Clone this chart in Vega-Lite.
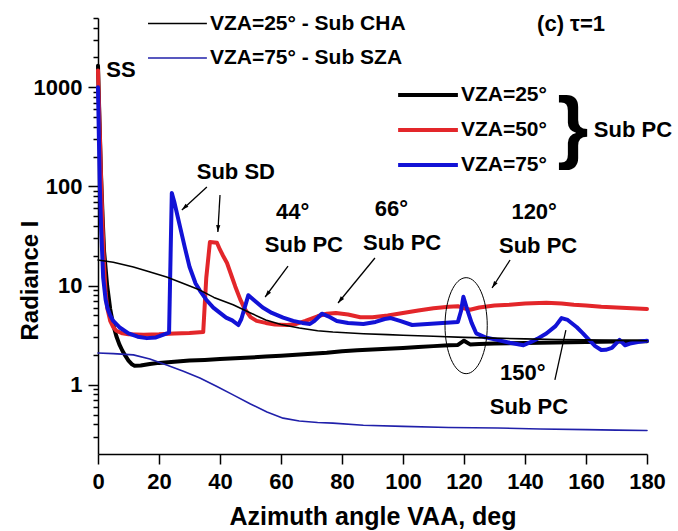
{
  "$schema": "https://vega.github.io/schema/vega-lite/v6.json",
  "width": 549,
  "height": 436,
  "autosize": {"type": "none"},
  "padding": {"left": 98, "top": 18, "right": 31, "bottom": 77},
  "background": "white",
  "config": {
    "view": {"stroke": null},
    "font": "Liberation Sans",
    "axis": {
      "grid": false,
      "domainColor": "black",
      "domainWidth": 1.5,
      "tickColor": "black",
      "tickWidth": 1.5,
      "labelColor": "black",
      "labelFont": "Liberation Sans",
      "labelFontWeight": "bold",
      "labelFontSize": 22,
      "titleColor": "black",
      "titleFont": "Liberation Sans",
      "titleFontWeight": "bold",
      "labelOverlap": false,
      "labelFlush": false
    },
    "text": {"font": "Liberation Sans", "fontWeight": "bold", "color": "black"}
  },
  "datasets": {
    "curves": [
      {"series": "PC25", "vaa": 0, "radiance": 1650}, {"series": "PC25", "vaa": 0.5, "radiance": 450}, {"series": "PC25", "vaa": 1, "radiance": 130}, {"series": "PC25", "vaa": 1.5, "radiance": 50}, {"series": "PC25", "vaa": 2, "radiance": 22}, {"series": "PC25", "vaa": 3, "radiance": 10}, {"series": "PC25", "vaa": 4, "radiance": 5.8}, {"series": "PC25", "vaa": 5, "radiance": 4}, {"series": "PC25", "vaa": 6, "radiance": 3.1}, {"series": "PC25", "vaa": 7, "radiance": 2.55}, {"series": "PC25", "vaa": 8, "radiance": 2.2}, {"series": "PC25", "vaa": 9, "radiance": 1.95}, {"series": "PC25", "vaa": 10, "radiance": 1.75}, {"series": "PC25", "vaa": 11, "radiance": 1.62}, {"series": "PC25", "vaa": 12, "radiance": 1.55}, {"series": "PC25", "vaa": 14, "radiance": 1.56}, {"series": "PC25", "vaa": 17, "radiance": 1.62}, {"series": "PC25", "vaa": 20, "radiance": 1.66}, {"series": "PC25", "vaa": 25, "radiance": 1.7}, {"series": "PC25", "vaa": 30, "radiance": 1.75}, {"series": "PC25", "vaa": 35, "radiance": 1.78}, {"series": "PC25", "vaa": 40, "radiance": 1.82}, {"series": "PC25", "vaa": 45, "radiance": 1.85}, {"series": "PC25", "vaa": 50, "radiance": 1.88}, {"series": "PC25", "vaa": 55, "radiance": 1.92}, {"series": "PC25", "vaa": 60, "radiance": 1.96}, {"series": "PC25", "vaa": 65, "radiance": 2.0}, {"series": "PC25", "vaa": 70, "radiance": 2.05}, {"series": "PC25", "vaa": 75, "radiance": 2.1}, {"series": "PC25", "vaa": 80, "radiance": 2.18}, {"series": "PC25", "vaa": 85, "radiance": 2.22}, {"series": "PC25", "vaa": 90, "radiance": 2.26}, {"series": "PC25", "vaa": 95, "radiance": 2.3}, {"series": "PC25", "vaa": 100, "radiance": 2.35}, {"series": "PC25", "vaa": 105, "radiance": 2.4}, {"series": "PC25", "vaa": 110, "radiance": 2.45}, {"series": "PC25", "vaa": 115, "radiance": 2.5}, {"series": "PC25", "vaa": 118, "radiance": 2.52}, {"series": "PC25", "vaa": 120, "radiance": 2.78}, {"series": "PC25", "vaa": 122, "radiance": 2.55}, {"series": "PC25", "vaa": 125, "radiance": 2.57}, {"series": "PC25", "vaa": 130, "radiance": 2.6}, {"series": "PC25", "vaa": 140, "radiance": 2.63}, {"series": "PC25", "vaa": 150, "radiance": 2.66}, {"series": "PC25", "vaa": 160, "radiance": 2.7}, {"series": "PC25", "vaa": 170, "radiance": 2.72}, {"series": "PC25", "vaa": 180, "radiance": 2.75},

      {"series": "PC50", "vaa": 0, "radiance": 1480}, {"series": "PC50", "vaa": 0.5, "radiance": 420}, {"series": "PC50", "vaa": 1, "radiance": 120}, {"series": "PC50", "vaa": 1.5, "radiance": 40}, {"series": "PC50", "vaa": 2, "radiance": 16}, {"series": "PC50", "vaa": 2.5, "radiance": 8.5}, {"series": "PC50", "vaa": 3, "radiance": 6}, {"series": "PC50", "vaa": 4, "radiance": 4.4}, {"series": "PC50", "vaa": 5, "radiance": 3.8}, {"series": "PC50", "vaa": 6, "radiance": 3.5}, {"series": "PC50", "vaa": 8, "radiance": 3.3}, {"series": "PC50", "vaa": 10, "radiance": 3.22}, {"series": "PC50", "vaa": 15, "radiance": 3.2}, {"series": "PC50", "vaa": 20, "radiance": 3.22}, {"series": "PC50", "vaa": 25, "radiance": 3.28}, {"series": "PC50", "vaa": 30, "radiance": 3.33}, {"series": "PC50", "vaa": 34.5, "radiance": 3.4}, {"series": "PC50", "vaa": 35.5, "radiance": 12}, {"series": "PC50", "vaa": 36.7, "radiance": 27.5}, {"series": "PC50", "vaa": 39, "radiance": 27}, {"series": "PC50", "vaa": 40, "radiance": 23}, {"series": "PC50", "vaa": 41, "radiance": 20}, {"series": "PC50", "vaa": 42.3, "radiance": 16.9}, {"series": "PC50", "vaa": 44, "radiance": 12}, {"series": "PC50", "vaa": 45, "radiance": 9.8}, {"series": "PC50", "vaa": 46.6, "radiance": 7.3}, {"series": "PC50", "vaa": 48, "radiance": 5.9}, {"series": "PC50", "vaa": 50, "radiance": 4.8}, {"series": "PC50", "vaa": 52, "radiance": 4.4}, {"series": "PC50", "vaa": 55, "radiance": 4.2}, {"series": "PC50", "vaa": 58, "radiance": 4.05}, {"series": "PC50", "vaa": 62, "radiance": 4.0}, {"series": "PC50", "vaa": 65, "radiance": 4.1}, {"series": "PC50", "vaa": 68, "radiance": 4.4}, {"series": "PC50", "vaa": 72, "radiance": 4.9}, {"series": "PC50", "vaa": 75, "radiance": 5.2}, {"series": "PC50", "vaa": 78, "radiance": 5.3}, {"series": "PC50", "vaa": 82, "radiance": 5.1}, {"series": "PC50", "vaa": 86, "radiance": 4.8}, {"series": "PC50", "vaa": 90, "radiance": 4.8}, {"series": "PC50", "vaa": 95, "radiance": 5.0}, {"series": "PC50", "vaa": 100, "radiance": 5.3}, {"series": "PC50", "vaa": 105, "radiance": 5.6}, {"series": "PC50", "vaa": 110, "radiance": 5.9}, {"series": "PC50", "vaa": 115, "radiance": 6.1}, {"series": "PC50", "vaa": 118, "radiance": 6.2}, {"series": "PC50", "vaa": 120, "radiance": 5.9}, {"series": "PC50", "vaa": 122, "radiance": 5.7}, {"series": "PC50", "vaa": 125, "radiance": 6.0}, {"series": "PC50", "vaa": 130, "radiance": 6.3}, {"series": "PC50", "vaa": 135, "radiance": 6.4}, {"series": "PC50", "vaa": 140, "radiance": 6.6}, {"series": "PC50", "vaa": 147, "radiance": 6.7}, {"series": "PC50", "vaa": 152, "radiance": 6.6}, {"series": "PC50", "vaa": 156, "radiance": 6.4}, {"series": "PC50", "vaa": 160, "radiance": 6.3}, {"series": "PC50", "vaa": 165, "radiance": 6.1}, {"series": "PC50", "vaa": 170, "radiance": 6.0}, {"series": "PC50", "vaa": 175, "radiance": 5.9}, {"series": "PC50", "vaa": 180, "radiance": 5.8},

      {"series": "PC75", "vaa": 0, "radiance": 1000}, {"series": "PC75", "vaa": 0.3, "radiance": 300}, {"series": "PC75", "vaa": 0.6, "radiance": 100}, {"series": "PC75", "vaa": 1, "radiance": 40}, {"series": "PC75", "vaa": 1.7, "radiance": 12}, {"series": "PC75", "vaa": 2.5, "radiance": 7.2}, {"series": "PC75", "vaa": 3.2, "radiance": 5.8}, {"series": "PC75", "vaa": 4, "radiance": 5.0}, {"series": "PC75", "vaa": 5, "radiance": 4.4}, {"series": "PC75", "vaa": 7, "radiance": 3.8}, {"series": "PC75", "vaa": 10, "radiance": 3.3}, {"series": "PC75", "vaa": 13, "radiance": 3.05}, {"series": "PC75", "vaa": 16, "radiance": 2.95}, {"series": "PC75", "vaa": 19, "radiance": 3.0}, {"series": "PC75", "vaa": 21.5, "radiance": 3.2}, {"series": "PC75", "vaa": 23.3, "radiance": 3.35}, {"series": "PC75", "vaa": 24.2, "radiance": 86}, {"series": "PC75", "vaa": 25, "radiance": 70}, {"series": "PC75", "vaa": 27, "radiance": 38}, {"series": "PC75", "vaa": 28.5, "radiance": 24}, {"series": "PC75", "vaa": 30, "radiance": 15.5}, {"series": "PC75", "vaa": 32, "radiance": 10.5}, {"series": "PC75", "vaa": 33.4, "radiance": 8.9}, {"series": "PC75", "vaa": 35.5, "radiance": 7.2}, {"series": "PC75", "vaa": 37.8, "radiance": 6.0}, {"series": "PC75", "vaa": 40, "radiance": 5.3}, {"series": "PC75", "vaa": 42, "radiance": 4.75}, {"series": "PC75", "vaa": 44, "radiance": 4.45}, {"series": "PC75", "vaa": 46, "radiance": 4.0}, {"series": "PC75", "vaa": 47, "radiance": 4.6}, {"series": "PC75", "vaa": 49.3, "radiance": 8.0}, {"series": "PC75", "vaa": 51, "radiance": 7.2}, {"series": "PC75", "vaa": 54, "radiance": 6.0}, {"series": "PC75", "vaa": 57, "radiance": 5.3}, {"series": "PC75", "vaa": 60.7, "radiance": 4.75}, {"series": "PC75", "vaa": 64, "radiance": 4.4}, {"series": "PC75", "vaa": 67, "radiance": 4.2}, {"series": "PC75", "vaa": 69.5, "radiance": 4.1}, {"series": "PC75", "vaa": 71, "radiance": 4.4}, {"series": "PC75", "vaa": 73.4, "radiance": 5.2}, {"series": "PC75", "vaa": 75.5, "radiance": 4.9}, {"series": "PC75", "vaa": 78.3, "radiance": 4.4}, {"series": "PC75", "vaa": 82, "radiance": 4.2}, {"series": "PC75", "vaa": 87, "radiance": 4.1}, {"series": "PC75", "vaa": 91, "radiance": 4.3}, {"series": "PC75", "vaa": 94, "radiance": 4.6}, {"series": "PC75", "vaa": 96, "radiance": 4.7}, {"series": "PC75", "vaa": 99, "radiance": 4.4}, {"series": "PC75", "vaa": 103, "radiance": 4.0}, {"series": "PC75", "vaa": 108, "radiance": 4.1}, {"series": "PC75", "vaa": 113, "radiance": 4.2}, {"series": "PC75", "vaa": 118, "radiance": 4.3}, {"series": "PC75", "vaa": 119, "radiance": 5.5}, {"series": "PC75", "vaa": 119.8, "radiance": 7.7}, {"series": "PC75", "vaa": 121, "radiance": 5.8}, {"series": "PC75", "vaa": 122.5, "radiance": 4.2}, {"series": "PC75", "vaa": 124, "radiance": 3.3}, {"series": "PC75", "vaa": 127, "radiance": 3.0}, {"series": "PC75", "vaa": 130.8, "radiance": 2.83}, {"series": "PC75", "vaa": 135, "radiance": 2.65}, {"series": "PC75", "vaa": 139.5, "radiance": 2.5}, {"series": "PC75", "vaa": 142, "radiance": 2.7}, {"series": "PC75", "vaa": 144, "radiance": 2.9}, {"series": "PC75", "vaa": 147, "radiance": 3.28}, {"series": "PC75", "vaa": 150, "radiance": 3.9}, {"series": "PC75", "vaa": 152, "radiance": 4.7}, {"series": "PC75", "vaa": 154, "radiance": 4.5}, {"series": "PC75", "vaa": 157, "radiance": 3.8}, {"series": "PC75", "vaa": 159, "radiance": 3.3}, {"series": "PC75", "vaa": 161, "radiance": 2.83}, {"series": "PC75", "vaa": 163, "radiance": 2.45}, {"series": "PC75", "vaa": 165, "radiance": 2.24}, {"series": "PC75", "vaa": 166.5, "radiance": 2.25}, {"series": "PC75", "vaa": 168.5, "radiance": 2.35}, {"series": "PC75", "vaa": 171, "radiance": 2.83}, {"series": "PC75", "vaa": 172.8, "radiance": 2.5}, {"series": "PC75", "vaa": 174.4, "radiance": 2.6}, {"series": "PC75", "vaa": 177, "radiance": 2.7}, {"series": "PC75", "vaa": 180, "radiance": 2.78},

      {"series": "CHA25", "vaa": 0, "radiance": 18.1}, {"series": "CHA25", "vaa": 5, "radiance": 17.2}, {"series": "CHA25", "vaa": 11.6, "radiance": 15.4}, {"series": "CHA25", "vaa": 16, "radiance": 14}, {"series": "CHA25", "vaa": 22.5, "radiance": 12.2}, {"series": "CHA25", "vaa": 28, "radiance": 10.5}, {"series": "CHA25", "vaa": 33.4, "radiance": 9.0}, {"series": "CHA25", "vaa": 38, "radiance": 7.6}, {"series": "CHA25", "vaa": 44.3, "radiance": 6.4}, {"series": "CHA25", "vaa": 50, "radiance": 5.3}, {"series": "CHA25", "vaa": 55, "radiance": 4.5}, {"series": "CHA25", "vaa": 60, "radiance": 4.05}, {"series": "CHA25", "vaa": 66, "radiance": 3.73}, {"series": "CHA25", "vaa": 72, "radiance": 3.5}, {"series": "CHA25", "vaa": 77, "radiance": 3.4}, {"series": "CHA25", "vaa": 87, "radiance": 3.27}, {"series": "CHA25", "vaa": 95, "radiance": 3.2}, {"series": "CHA25", "vaa": 100, "radiance": 3.15}, {"series": "CHA25", "vaa": 110, "radiance": 3.08}, {"series": "CHA25", "vaa": 120, "radiance": 3.0}, {"series": "CHA25", "vaa": 130, "radiance": 2.95}, {"series": "CHA25", "vaa": 140, "radiance": 2.9}, {"series": "CHA25", "vaa": 150, "radiance": 2.86}, {"series": "CHA25", "vaa": 160, "radiance": 2.83}, {"series": "CHA25", "vaa": 170, "radiance": 2.8}, {"series": "CHA25", "vaa": 180, "radiance": 2.78},

      {"series": "SZA75", "vaa": 0, "radiance": 2.09}, {"series": "SZA75", "vaa": 5, "radiance": 2.06}, {"series": "SZA75", "vaa": 11.6, "radiance": 2.0}, {"series": "SZA75", "vaa": 17, "radiance": 1.82}, {"series": "SZA75", "vaa": 22.5, "radiance": 1.58}, {"series": "SZA75", "vaa": 28, "radiance": 1.37}, {"series": "SZA75", "vaa": 33.4, "radiance": 1.17}, {"series": "SZA75", "vaa": 39, "radiance": 0.96}, {"series": "SZA75", "vaa": 44.3, "radiance": 0.79}, {"series": "SZA75", "vaa": 50, "radiance": 0.64}, {"series": "SZA75", "vaa": 55.4, "radiance": 0.53}, {"series": "SZA75", "vaa": 60.7, "radiance": 0.46}, {"series": "SZA75", "vaa": 66, "radiance": 0.43}, {"series": "SZA75", "vaa": 72, "radiance": 0.415}, {"series": "SZA75", "vaa": 77, "radiance": 0.41}, {"series": "SZA75", "vaa": 87, "radiance": 0.39}, {"series": "SZA75", "vaa": 100, "radiance": 0.38}, {"series": "SZA75", "vaa": 115, "radiance": 0.37}, {"series": "SZA75", "vaa": 131, "radiance": 0.366}, {"series": "SZA75", "vaa": 145, "radiance": 0.358}, {"series": "SZA75", "vaa": 160, "radiance": 0.352}, {"series": "SZA75", "vaa": 170, "radiance": 0.348}, {"series": "SZA75", "vaa": 180, "radiance": 0.345}
    ],
    "legendLines": [
      {"series": "CHA25", "x1": 16.4, "x2": 35.7, "y": 4400, "label": "VZA=25° - Sub CHA"},
      {"series": "SZA75", "x1": 16.4, "x2": 35.7, "y": 1975, "label": "VZA=75° - Sub SZA"},
      {"series": "PC25", "x1": 98.4, "x2": 118, "y": 836, "label": "VZA=25°"},
      {"series": "PC50", "x1": 98.4, "x2": 118, "y": 371, "label": "VZA=50°"},
      {"series": "PC75", "x1": 98.4, "x2": 118, "y": 164.5, "label": "VZA=75°"}
    ],
    "notes": [
      {"x": 7.5, "y": 1495, "text": "SS"},
      {"x": 155.1, "y": 4350, "text": "(c) τ=1"},
      {"x": 45.2, "y": 140, "text": "Sub SD"},
      {"x": 63.8, "y": 55.2, "text": "44°"},
      {"x": 67.5, "y": 25.7, "text": "Sub PC"},
      {"x": 96.2, "y": 59.2, "text": "66°"},
      {"x": 99.7, "y": 26.9, "text": "Sub PC"},
      {"x": 143, "y": 55.2, "text": "120°"},
      {"x": 144.3, "y": 25.1, "text": "Sub PC"},
      {"x": 139.3, "y": 1.31, "text": "150°"},
      {"x": 141.3, "y": 0.596, "text": "Sub PC"},
      {"x": 175.4, "y": 371, "text": "Sub PC"}
    ],
    "brace": [{"x": 155.7, "y": 380, "text": "}"}],
    "arrows": [
      {"x1": 35.7, "y1": 98.7, "x2": 27.5, "y2": 57.9, "angle": 227},
      {"x1": 40.0, "y1": 82, "x2": 39.3, "y2": 34.7, "angle": 183},
      {"x1": 62.3, "y1": 15.7, "x2": 54.8, "y2": 7.67, "angle": 217},
      {"x1": 90.8, "y1": 18.97, "x2": 78.7, "y2": 6.67, "angle": 219},
      {"x1": 135.1, "y1": 18.1, "x2": 129.2, "y2": 9.45, "angle": 213},
      {"x1": 149.8, "y1": 1.116, "x2": 153.4, "y2": 3.56, "angle": null}
    ],
    "ellipse": [{"x": 120.7, "y": 3.94}]
  },
  "layer": [
    {
      "data": {"name": "curves"},
      "mark": {"type": "line", "strokeJoin": "round", "strokeCap": "round"},
      "encoding": {
        "x": {"field": "vaa", "type": "quantitative",
          "scale": {"domain": [0, 180], "nice": false, "zero": false},
          "axis": {"orient": "bottom", "values": [0, 10, 20, 30, 40, 50, 60, 70, 80, 90, 100, 110, 120, 130, 140, 150, 160, 170, 180],
            "tickSize": {"condition": {"test": "datum.value % 20 === 0", "value": 10}, "value": 5},
            "labelExpr": "datum.value % 20 === 0 ? datum.label : ''",
            "labelPadding": 7,
            "title": "Azimuth angle VAA, deg", "titleFontSize": 25, "titlePadding": 12}},
        "y": {"field": "radiance", "type": "quantitative",
          "scale": {"type": "log", "domain": [0.2, 5000], "nice": false},
          "axis": {"orient": "left",
            "values": [0.3, 0.4, 0.5, 0.6, 0.7, 0.8, 0.9, 1, 2, 3, 4, 5, 6, 7, 8, 9, 10, 20, 30, 40, 50, 60, 70, 80, 90, 100, 200, 300, 400, 500, 600, 700, 800, 900, 1000, 2000, 3000, 4000, 5000],
            "format": "d",
            "tickSize": {"condition": {"test": "indexof([1, 10, 100, 1000], datum.value) >= 0", "value": 10}, "value": 5},
            "labelExpr": "indexof([1, 10, 100, 1000], datum.value) >= 0 ? datum.label : ''",
            "labelPadding": 6,
            "title": "Radiance I", "titleFontSize": 24, "titleX": -61, "titleY": 262, "titleAngle": -90, "titleAlign": "center", "titleBaseline": "alphabetic"}},
        "color": {"field": "series", "type": "nominal", "legend": null,
          "scale": {"domain": ["CHA25", "PC25", "PC50", "PC75", "SZA75"], "range": ["#000000", "#000000", "#e3262a", "#1212d6", "#2020aa"]}},
        "strokeWidth": {"field": "series", "type": "nominal", "legend": null,
          "scale": {"type": "ordinal", "domain": ["CHA25", "PC25", "PC50", "PC75", "SZA75"], "range": [1.6, 4, 4, 4, 1.6]}}
      }
    },
    {
      "data": {"name": "ellipse"},
      "mark": {"type": "point", "shape": "M0,-1A0.44,1 0 1,1 0,1A0.44,1 0 1,1 0,-1Z", "size": 9216, "filled": false, "color": "black", "strokeWidth": 1, "opacity": 1},
      "encoding": {
        "x": {"field": "x", "type": "quantitative"},
        "y": {"field": "y", "type": "quantitative"}
      }
    },
    {
      "data": {"name": "legendLines"},
      "mark": {"type": "rule"},
      "encoding": {
        "x": {"field": "x1", "type": "quantitative"},
        "x2": {"field": "x2"},
        "y": {"field": "y", "type": "quantitative"},
        "color": {"field": "series", "type": "nominal", "legend": null,
          "scale": {"domain": ["CHA25", "PC25", "PC50", "PC75", "SZA75"], "range": ["#000000", "#000000", "#e3262a", "#1212d6", "#2020aa"]}},
        "strokeWidth": {"field": "series", "type": "nominal", "legend": null,
          "scale": {"type": "ordinal", "domain": ["CHA25", "PC25", "PC50", "PC75", "SZA75"], "range": [1.6, 4, 4, 4, 1.6]}}
      }
    },
    {
      "data": {"name": "legendLines"},
      "mark": {"type": "text", "align": "left", "baseline": "middle", "fontSize": 21, "dx": 3},
      "encoding": {
        "x": {"field": "x2", "type": "quantitative"},
        "y": {"field": "y", "type": "quantitative"},
        "text": {"field": "label"}
      }
    },
    {
      "data": {"name": "notes"},
      "mark": {"type": "text", "align": "center", "baseline": "middle", "fontSize": 22},
      "encoding": {
        "x": {"field": "x", "type": "quantitative"},
        "y": {"field": "y", "type": "quantitative"},
        "text": {"field": "text"}
      }
    },
    {
      "data": {"name": "brace"},
      "mark": {"type": "text", "align": "center", "baseline": "middle", "fontSize": 80, "fontWeight": "bold"},
      "encoding": {
        "x": {"field": "x", "type": "quantitative"},
        "y": {"field": "y", "type": "quantitative"},
        "text": {"field": "text"}
      }
    },
    {
      "data": {"name": "arrows"},
      "mark": {"type": "rule", "color": "black", "strokeWidth": 1.3},
      "encoding": {
        "x": {"field": "x1", "type": "quantitative"},
        "y": {"field": "y1", "type": "quantitative"},
        "x2": {"field": "x2"},
        "y2": {"field": "y2"}
      }
    },
    {
      "data": {"name": "arrows"},
      "transform": [{"filter": "datum.angle != null"}],
      "mark": {"type": "point", "shape": "M0,0L-0.55,1.8L0.55,1.8Z", "size": 60, "filled": true, "color": "black", "opacity": 1},
      "encoding": {
        "x": {"field": "x2", "type": "quantitative"},
        "y": {"field": "y2", "type": "quantitative"},
        "angle": {"field": "angle", "type": "quantitative", "scale": null}
      }
    }
  ]
}
